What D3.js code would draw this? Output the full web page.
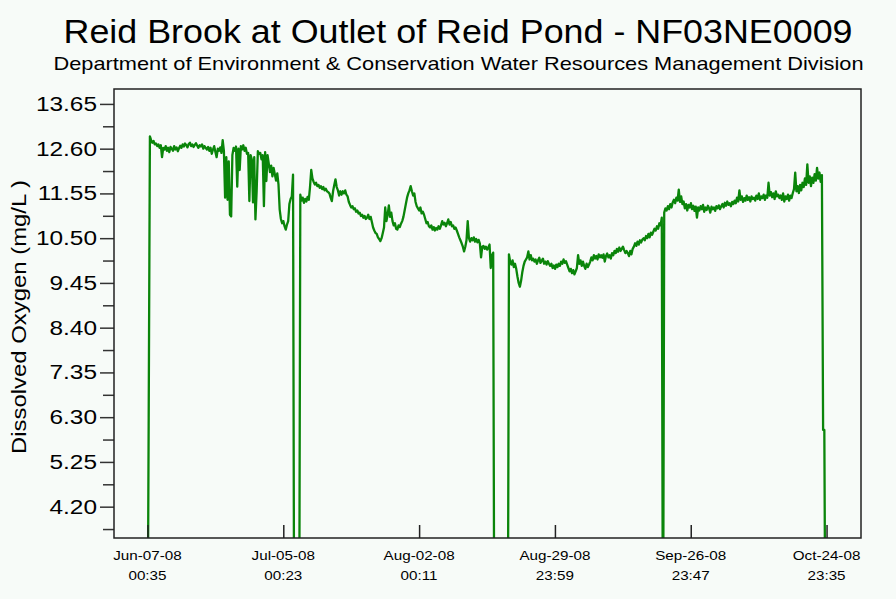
<!DOCTYPE html>
<html>
<head>
<meta charset="utf-8">
<script src="https://cdn.jsdelivr.net/npm/d3@7"></script>
<style>
  html, body { margin: 0; padding: 0; background: #f7fbf8; }
  svg { display: block; }
  text { font-family: "Liberation Sans", Arial, sans-serif; fill: #000; }
</style>
</head>
<body>
<svg id="chart" width="896" height="599"></svg>
<script>
// Station and labels
const chartTitle = "Reid Brook at Outlet of Reid Pond - NF03NE0009";
const chartSubtitle = "Department of Environment & Conservation Water Resources Management Division";
const yAxisTitle = "Dissolved Oxygen (mg/L )";

// Dissolved oxygen (mg/L), one reading every 6 hours from the first timestamp.
// Readings of 0 are periods when the sonde was out of the water.
const firstReading = "2008-06-07 00:35";
const readingStepHours = 6;
const dissolvedOxygen = [
  0, 6.30, 12.89, 12.80, 12.74, 12.78, 12.70, 12.72, 12.66, 12.70, 12.62, 12.68, 12.40, 12.62,
  12.58, 12.66, 12.55, 12.62, 12.52, 12.64, 12.60, 12.55, 12.66, 12.58, 12.63, 12.54, 12.61, 12.67,
  12.62, 12.70, 12.65, 12.72, 12.68, 12.63, 12.71, 12.74, 12.66, 12.70, 12.64, 12.69, 12.73, 12.67, 12.62, 12.68, 12.65, 12.70, 12.60, 12.66, 12.62, 12.58,
  12.64, 12.55, 12.62, 12.48, 12.58, 12.66, 12.52, 12.40, 12.60, 12.55, 12.63, 12.50,
  12.80, 12.55, 11.45, 12.40, 11.40, 12.30, 11.05, 11.01, 12.45,
  12.62, 12.55, 12.65, 11.71, 12.60, 12.10, 12.66, 12.58, 12.68, 12.55, 12.62, 12.48,
  12.50, 11.37, 12.45, 12.35, 11.34, 12.40, 10.94, 11.60, 12.54, 12.48,
  12.50, 12.35, 12.45, 11.25, 12.52, 11.84, 12.45,
  12.25, 12.05, 12.20, 11.95, 12.15, 12.00, 11.85, 12.02, 11.76, 11.17,
  10.95, 10.85, 10.90, 10.78, 10.70, 10.82, 10.90, 11.30, 11.42, 11.48, 11.99,
  0, 0, 0, 0, 0,
  11.52, 11.38, 11.45, 11.33, 11.42, 11.36, 11.47, 11.40,
  11.70, 12.10, 11.90, 11.82, 11.76, 11.80, 11.72, 11.75, 11.68, 11.72, 11.65, 11.70, 11.62, 11.66, 11.60, 11.58,
  11.55, 11.45, 11.37, 11.60, 11.75, 11.88, 11.70, 11.62, 11.50, 11.60, 11.52, 11.60, 11.55, 11.62, 11.52, 11.48,
  11.35, 11.28, 11.22, 11.25, 11.18, 11.20, 11.12, 11.15, 11.08, 11.10, 11.02, 11.05, 10.98, 11.02, 10.95, 10.98, 11.05, 10.95, 11.00, 10.88,
  10.75, 10.68, 10.62, 10.60, 10.52, 10.48, 10.43, 10.50, 10.62, 10.75, 11.22, 10.90, 11.05, 11.27, 11.00, 11.10,
  10.90, 10.80, 10.85, 10.72, 10.70, 10.80, 10.76, 10.84, 10.90, 11.00, 11.15, 11.30, 11.45, 11.55, 11.62, 11.72, 11.60,
  11.50, 11.55, 11.35, 11.25, 11.20, 11.15, 11.22, 11.08, 11.12, 11.05, 10.95, 10.85, 10.88, 10.78,
  10.75, 10.80, 10.70, 10.76, 10.68, 10.74, 10.70, 10.78, 10.72, 10.80, 10.90, 10.82, 10.86, 10.78, 10.85, 10.94, 10.82, 10.88, 10.78, 10.80, 10.72, 10.75, 10.68,
  10.60, 10.52, 10.45, 10.38, 10.30, 10.19, 10.30, 10.45, 10.90, 10.50, 10.42, 10.50, 10.45, 10.52, 10.42, 10.48, 10.40, 10.46, 10.38, 10.05, 10.30, 10.32, 10.25, 10.30, 10.23, 10.28, 10.35, 9.80, 10.10, 10.16,
  0, 0, 0, 0, 0, 0, 0, 0, 0, 0, 0, 0,
  10.12, 9.95, 9.88, 9.98, 9.82, 9.90, 9.78, 9.60, 9.45, 9.36, 9.50, 9.70, 9.85, 9.95, 10.00, 10.05, 10.19, 10.00, 10.10, 9.98,
  10.02, 9.95, 10.00, 9.90, 9.98, 10.04, 9.92, 9.97, 10.02, 9.90, 9.95, 9.88, 9.96, 9.90, 9.85, 9.90, 9.80, 9.86, 9.78, 9.88, 9.82, 9.90, 9.85, 9.95, 9.90, 10.00, 9.92, 9.96, 9.88,
  9.80, 9.72, 9.78, 9.68, 9.75, 9.65, 9.72, 9.80, 10.10, 9.90, 9.98, 9.85, 9.95, 9.85, 9.78, 9.90, 9.82, 9.88, 9.95, 10.05, 9.98, 10.10, 10.02, 10.08, 10.00, 10.12, 10.05,
  10.10, 10.04, 10.12, 9.95, 10.08, 10.14, 10.05, 10.10, 10.02, 10.15, 10.10, 10.20, 10.15, 10.25, 10.18, 10.28, 10.20, 10.25, 10.30, 10.22, 10.15, 10.20, 10.15, 10.08, 10.20, 10.12, 10.25,
  10.30, 10.38, 10.32, 10.42, 10.35, 10.45, 10.40, 10.47, 10.50, 10.45, 10.55, 10.50, 10.60, 10.52, 10.63, 10.58, 10.65, 10.72, 10.68, 10.78, 10.72, 10.85, 10.80, 10.98,
  0,
  11.10, 11.20, 11.15, 11.25, 11.18, 11.30, 11.22, 11.34, 11.40, 11.32, 11.45, 11.38, 11.64, 11.35, 11.48, 11.30, 11.36, 11.20, 11.30, 11.15, 11.28, 11.22, 11.32, 11.18, 11.26, 11.14, 11.24, 10.98,
  11.22, 11.15, 11.25, 11.18, 11.28, 11.12, 11.22, 11.16, 11.26, 11.20, 11.10, 11.24, 11.18, 11.22, 11.14, 11.25, 11.20, 11.27, 11.18, 11.25, 11.30, 11.22, 11.33, 11.26, 11.36, 11.28, 11.32, 11.25, 11.35, 11.30,
  11.38, 11.32, 11.45, 11.36, 11.62, 11.40, 11.48, 11.35, 11.44, 11.38, 11.50, 11.40, 11.46, 11.36, 11.48, 11.42, 11.45, 11.38, 11.50, 11.42, 11.55, 11.40, 11.48, 11.44, 11.52, 11.40, 11.50, 11.45, 11.80, 11.50,
  11.58, 11.46, 11.55, 11.42, 11.60, 11.48, 11.52, 11.44, 11.50, 11.40, 11.55, 11.36, 11.48, 11.42, 11.52, 11.38, 11.50, 11.44, 11.56, 11.65, 12.04, 11.60, 11.72, 11.56, 11.75, 11.62, 11.80,
  11.70, 11.90, 11.75, 12.23, 11.80, 11.95, 11.72, 11.92, 11.80, 12.00, 11.85, 12.15, 11.90, 12.04, 11.82, 11.98, 6.00, 6.00, 0
];

// Axis ticks
const xTickTimes = ["2008-06-07 00:35", "2008-07-05 00:23", "2008-08-02 00:11",
                    "2008-08-29 23:59", "2008-09-26 23:47", "2008-10-24 23:35"];
const yMajorTicks = [4.20, 5.25, 6.30, 7.35, 8.40, 9.45, 10.50, 11.55, 12.60, 13.65];
const yMinorTicks = [3.675, 4.725, 5.775, 6.825, 7.875, 8.925, 9.975, 11.025, 12.075, 13.125];
const yDomain = [3.465, 14.0];
const xPaddingDays = [6.9, 7.1];

// Layout
const W = 896, H = 599;
const plot = { left: 114, right: 861, top: 89, bottom: 538 };
const DAY = 864e5;
const wideText = 1.22;   // horizontal stretch of the axis lettering

const parseTime = d3.utcParse("%Y-%m-%d %H:%M");
const t0 = parseTime(firstReading);
const series = dissolvedOxygen.map((v, i) => ({ t: new Date(+t0 + i * readingStepHours * 36e5), v }));
const tickDates = xTickTimes.map(parseTime);

const x = d3.scaleUtc()
  .domain([new Date(+tickDates[0] - xPaddingDays[0] * DAY),
           new Date(+tickDates[tickDates.length - 1] + xPaddingDays[1] * DAY)])
  .range([plot.left, plot.right]);
const y = d3.scaleLinear().domain(yDomain).range([plot.bottom, plot.top]);

const svg = d3.select("#chart");
svg.append("rect").attr("width", W).attr("height", H).attr("fill", "#f7fbf8");

// Titles
svg.append("text")
  .attr("x", 458).attr("y", 43)
  .attr("text-anchor", "middle")
  .attr("font-size", 33)
  .attr("textLength", 789).attr("lengthAdjust", "spacingAndGlyphs")
  .text(chartTitle);
svg.append("text")
  .attr("x", 458.5).attr("y", 70)
  .attr("text-anchor", "middle")
  .attr("font-size", 19)
  .attr("textLength", 810).attr("lengthAdjust", "spacingAndGlyphs")
  .text(chartSubtitle);

// Clip region for the data line
svg.append("clipPath").attr("id", "plot-clip")
  .append("rect")
  .attr("x", plot.left).attr("y", plot.top)
  .attr("width", plot.right - plot.left).attr("height", plot.bottom - plot.top);

const line = d3.line().x(d => x(d.t)).y(d => y(d.v));
svg.append("path")
  .datum(series)
  .attr("clip-path", "url(#plot-clip)")
  .attr("fill", "none")
  .attr("stroke", "#0a850a")
  .attr("stroke-width", 2.3)
  .attr("stroke-linejoin", "round")
  .attr("d", line);

// Y axis: major ticks with labels, minor ticks without
const yMajor = svg.append("g").attr("transform", `translate(${plot.left},0)`)
  .call(d3.axisLeft(y).tickValues(yMajorTicks).tickSize(14).tickPadding(3).tickFormat(d3.format(".2f")));
const yMinor = svg.append("g").attr("transform", `translate(${plot.left},0)`)
  .call(d3.axisLeft(y).tickValues(yMinorTicks).tickSize(11).tickFormat(""));
[yMajor, yMinor].forEach(g => {
  g.select(".domain").remove();
  g.selectAll("line").attr("stroke", "#333").attr("stroke-width", 1.5);
});
yMajor.selectAll("text")
  .attr("font-size", 20)
  .attr("font-family", "'Liberation Sans', Arial, sans-serif")
  .attr("fill", "#111")
  .each(function () {
    const w = this.getComputedTextLength();
    d3.select(this).attr("textLength", w * wideText).attr("lengthAdjust", "spacingAndGlyphs");
  });

// X axis: ticks pointing up into the plot, two-line labels underneath
const xAxis = svg.append("g").attr("transform", `translate(0,${plot.bottom})`)
  .call(d3.axisBottom(x).tickValues(tickDates).tickSizeInner(-13).tickSizeOuter(0).tickFormat(""));
xAxis.select(".domain").remove();
xAxis.selectAll("line").attr("stroke", "#222").attr("stroke-width", 1.5);

const fmtDate = d3.utcFormat("%b-%d-%y");
const fmtTime = d3.utcFormat("%H:%M");
const xLabels = svg.append("g");
tickDates.forEach(d => {
  [[fmtDate(d), 560], [fmtTime(d), 580]].forEach(([label, yy]) => {
    const t = xLabels.append("text")
      .attr("x", x(d)).attr("y", yy).attr("text-anchor", "middle")
      .attr("font-size", 13).attr("fill", "#111")
      .text(label);
    t.attr("textLength", t.node().getComputedTextLength() * 1.17).attr("lengthAdjust", "spacingAndGlyphs");
  });
});

// Plot frame
svg.append("rect")
  .attr("x", plot.left).attr("y", plot.top)
  .attr("width", plot.right - plot.left).attr("height", plot.bottom - plot.top)
  .attr("fill", "none").attr("stroke", "#222").attr("stroke-width", 1.5);

// Y axis title
svg.append("text")
  .attr("transform", `translate(26,317) rotate(-90)`)
  .attr("text-anchor", "middle")
  .attr("font-size", 20)
  .attr("textLength", 274).attr("lengthAdjust", "spacingAndGlyphs")
  .text(yAxisTitle);
</script>
</body>
</html>
